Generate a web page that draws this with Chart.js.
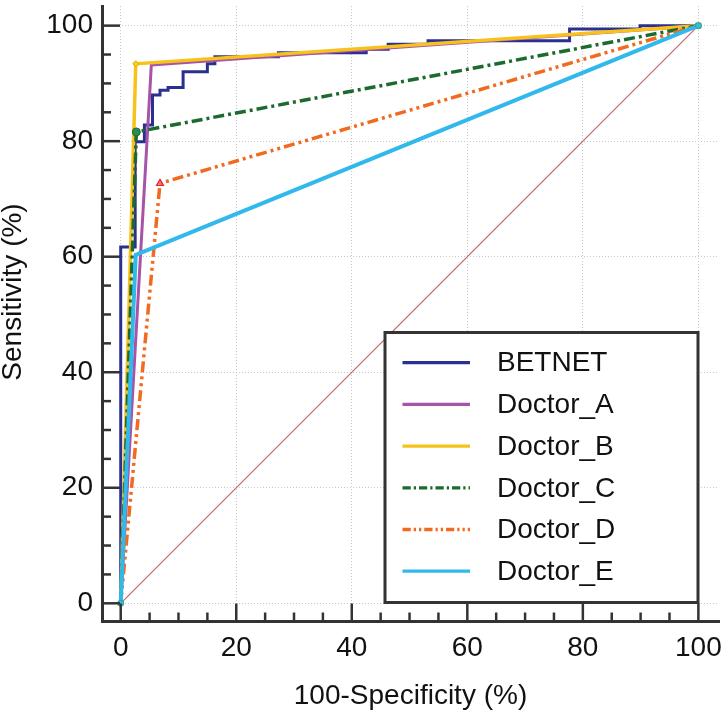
<!DOCTYPE html>
<html>
<head>
<meta charset="utf-8">
<script src="https://cdn.jsdelivr.net/npm/chart.js@4/dist/chart.umd.min.js"></script>
<style>
  html, body { margin: 0; padding: 0; background: #ffffff; }
  #wrap { width: 728px; height: 720px; }
</style>
</head>
<body>
<div id="wrap"><canvas id="c" width="728" height="720"></canvas></div>
<script>
// ---- data ----
const seriesNames = ["BETNET", "Doctor_A", "Doctor_B", "Doctor_C", "Doctor_D", "Doctor_E"];
const betnetFpr = [0, 0, 2.5, 4.1, 5.5, 6.8, 8.2, 10.8, 15.0, 16.3, 27.3, 42.5, 46.3, 53.2, 77.7, 89.9, 100];
const betnetTpr = [0, 61.7, 79.9, 82.8, 88.0, 88.8, 89.3, 92.0, 93.4, 94.6, 95.3, 95.9, 96.8, 97.4, 99.4, 100, 100];
const doctorAFpr = [0, 5.3, 100];
const doctorATpr = [0, 93.2, 100];
const doctorBFpr = [0, 2.6, 100];
const doctorBTpr = [0, 93.4, 100];
const doctorCFpr = [0, 2.7, 100];
const doctorCTpr = [0, 81.6, 100];
const doctorDFpr = [0, 6.8, 100];
const doctorDTpr = [0, 72.7, 100];
const doctorEFpr = [0, 2.6, 100];
const doctorETpr = [0, 60.3, 100];
const chanceFpr = [0, 100];
const chanceTpr = [0, 100];
const xTickValues = [0, 20, 40, 60, 80, 100];
const yTickValues = [0, 20, 40, 60, 80, 100];
const xTitle = "100-Specificity (%)";
const yTitle = "Sensitivity (%)";

const FONT = "'Liberation Sans', Arial, Helvetica, sans-serif";
const pts = (xs, ys) => xs.map((x, i) => ({ x: x, y: ys[i] }));

const styles = {
  BETNET:   { color: "#2b2f8f", width: 3,   dash: [] },
  Doctor_A: { color: "#a653a8", width: 3,   dash: [] },
  Doctor_B: { color: "#f7c21b", width: 3.5, dash: [] },
  Doctor_C: { color: "#1d6a2f", width: 3.5, dash: [11, 4, 3, 4] },
  Doctor_D: { color: "#f26a1f", width: 3.5, dash: [11, 4, 3, 4, 3, 4] },
  Doctor_E: { color: "#30b9ea", width: 4,   dash: [] }
};

function lineDs(name, xs, ys, order, extra) {
  const s = styles[name];
  return Object.assign({
    label: name,
    data: pts(xs, ys),
    showLine: true,
    borderColor: s.color,
    backgroundColor: s.color,
    borderWidth: s.width,
    borderDash: s.dash,
    pointRadius: 0,
    fill: false,
    tension: 0,
    order: order
  }, extra || {});
}

const datasets = [
  {
    label: "chance",
    data: pts(chanceFpr, chanceTpr),
    showLine: true,
    borderColor: "#c0625e",
    backgroundColor: "#c0625e",
    borderWidth: 1.1,
    pointRadius: 0,
    fill: false,
    order: 10
  },
  lineDs("BETNET", betnetFpr, betnetTpr, 6, { stepped: "before" }),
  lineDs("Doctor_A", doctorAFpr, doctorATpr, 5),
  lineDs("Doctor_B", doctorBFpr, doctorBTpr, 4, {
    pointRadius: [0, 3, 0], pointStyle: "rectRot",
    pointBackgroundColor: "#f7d21b", pointBorderColor: "#e0a800", pointBorderWidth: 1
  }),
  lineDs("Doctor_C", doctorCFpr, doctorCTpr, 3, {
    pointRadius: [0, 4, 3.5], pointStyle: ["circle", "circle", "rect"],
    pointBackgroundColor: "#2e8b57", pointBorderColor: "#1d6a2f", pointBorderWidth: 1
  }),
  lineDs("Doctor_D", doctorDFpr, doctorDTpr, 2, {
    pointRadius: [2.5, 4, 0], pointStyle: "triangle",
    pointBackgroundColor: "rgba(255,120,120,0.6)", pointBorderColor: "#e4222a", pointBorderWidth: 1.2
  }),
  lineDs("Doctor_E", doctorEFpr, doctorETpr, 1, {
    pointRadius: [3, 0, 3], pointStyle: "circle",
    pointBackgroundColor: "#38c0c8", pointBorderColor: "#2aa0b0", pointBorderWidth: 1
  })
];

const decorPlugin = {
  id: "decor",
  afterDraw(chart) {
    const ctx = chart.ctx;
    const xs = chart.scales.x, ys = chart.scales.y;
    const area = chart.chartArea;
    ctx.save();
    // inside tick marks (major every 20, minor every 5)
    ctx.strokeStyle = "#333333";
    ctx.lineWidth = 2.5;
    for (let v = 0; v <= 100; v += 5) {
      const len = (v % 20 === 0) ? 18 : 9;
      const px = xs.getPixelForValue(v);
      ctx.beginPath();
      ctx.moveTo(px, area.bottom);
      ctx.lineTo(px, area.bottom - len);
      ctx.stroke();
      const py = ys.getPixelForValue(v);
      ctx.beginPath();
      ctx.moveTo(area.left, py);
      ctx.lineTo(area.left + len, py);
      ctx.stroke();
    }
    // legend box
    const bx = 385, by = 332.5, bw = 313, bh = 270;
    ctx.fillStyle = "#ffffff";
    ctx.fillRect(bx, by, bw, bh);
    ctx.lineWidth = 3;
    ctx.strokeStyle = "#333333";
    ctx.strokeRect(bx, by, bw, bh);
    ctx.font = "28px " + FONT;
    ctx.textBaseline = "middle";
    ctx.textAlign = "left";
    seriesNames.forEach((name, i) => {
      const s = styles[name];
      const ry = 362.7 + i * 41.7;
      ctx.save();
      ctx.strokeStyle = s.color;
      ctx.lineWidth = 3.3;
      ctx.setLineDash(s.dash.length ? s.dash.map(d => d * 0.75) : []);
      ctx.beginPath();
      ctx.moveTo(402.5, ry);
      ctx.lineTo(470, ry);
      ctx.stroke();
      ctx.restore();
      ctx.fillStyle = "#111111";
      ctx.fillText(name, 497, ry + 1);
    });
    // y axis title
    ctx.translate(13, 292);
    ctx.rotate(-Math.PI / 2);
    ctx.textAlign = "center";
    ctx.textBaseline = "middle";
    ctx.fillStyle = "#111111";
    ctx.font = "28px " + FONT;
    ctx.fillText(yTitle, 0, 0);
    ctx.restore();
  }
};

new Chart(document.getElementById("c"), {
  type: "scatter",
  data: { datasets: datasets },
  options: {
    responsive: false,
    animation: false,
    devicePixelRatio: 1,
    layout: { padding: { left: 0, right: 9, top: 6, bottom: 0 } },
    plugins: { legend: { display: false }, tooltip: { enabled: false } },
    scales: {
      x: {
        type: "linear",
        min: -3.24,
        max: 103.57,
        afterBuildTicks: (scale) => { scale.ticks = xTickValues.map(v => ({ value: v })); },
        afterFit: (scale) => { scale.height = 98.5; scale.paddingLeft = 0; scale.paddingRight = 0; },
        ticks: { color: "#111111", font: { family: FONT, size: 28 }, padding: 10, maxRotation: 0, autoSkip: false },
        grid: { color: "#c8c8c8", lineWidth: 1, drawTicks: false, borderDash: [1, 2] },
        border: { display: true, color: "#333333", width: 3, dash: [1, 2] },
        title: { display: true, text: xTitle, color: "#111111", font: { family: FONT, size: 28 }, padding: { top: 0, bottom: 7 } }
      },
      y: {
        type: "linear",
        min: -3.15,
        max: 103.4,
        afterBuildTicks: (scale) => { scale.ticks = yTickValues.map(v => ({ value: v })); },
        afterFit: (scale) => { scale.width = 102; scale.paddingTop = 0; scale.paddingBottom = 0; },
        ticks: { color: "#111111", font: { family: FONT, size: 28 }, padding: 9, autoSkip: false },
        grid: { color: "#c8c8c8", lineWidth: 1, drawTicks: false, borderDash: [1, 2] },
        border: { display: true, color: "#333333", width: 3, dash: [1, 2] }
      }
    }
  },
  plugins: [decorPlugin]
});
</script>
</body>
</html>
